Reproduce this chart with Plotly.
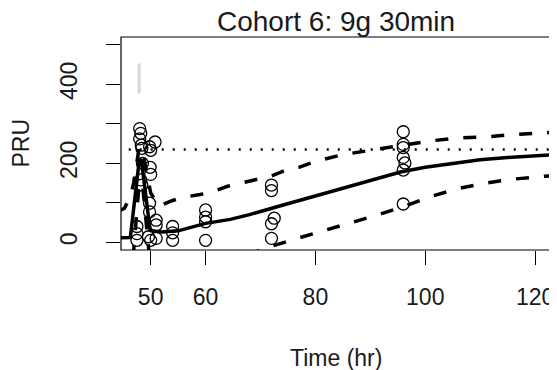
import plotly.graph_objects as go

# ---------------- data ----------------
obs_time = [47.5, 47.5, 47.5,
            48.0, 48.2, 48.0, 48.3, 48.4,
            48.5, 48.2, 48.4,
            49.8, 50.0, 49.9, 50.0, 49.8, 49.8, 49.6, 50.0,
            50.8, 51.0, 51.0, 51.0,
            54, 54, 54,
            60, 60, 60, 60,
            72, 72, 72.5, 72, 72,
            96, 96, 96, 96, 96.3, 96, 96]
obs_pru = [40, 22, 5,
           288, 276, 262, 246, 238,
           200, 158, 145,
           242, 233, 190, 172, 99, 77, 14, 5,
           254, 56, 44, 10,
           40, 24, 5,
           82, 64, 52, 5,
           145, 131, 61, 47, 10,
           280, 248, 240, 215, 201, 183, 97]

med_time = [44, 46.3, 47.9, 48.3, 49.9, 52, 55, 58, 60, 64.5, 68, 73.5, 80, 88, 95.5,
            100, 105, 110, 115, 120, 124]
med_pru = [11, 12, 205, 210, 30, 26, 29, 40, 48, 58, 70, 92, 118, 150, 178,
           190, 200, 209, 215, 219, 222]

up_time = [44, 45.2, 46.3, 46.9, 47.9, 48.4, 50.0, 51.5, 54, 56, 59, 61, 64, 66.5, 70, 72,
           75, 77, 80, 82, 85, 90, 96, 101, 106, 112, 116, 120, 124]
up_pru = [78, 86, 115, 150, 240, 240, 125, 92, 106, 114, 121, 127, 142, 150, 163, 168,
          185, 190, 205, 212, 222, 233, 246, 257, 264, 268, 273, 277, 279]

lo_time = [46.8, 47.9, 48.5, 49.8, 66, 72, 76, 81, 86, 91, 96, 101, 106, 111, 116, 121, 124]
lo_pru = [-40, 150, 150, -40, -40, -10, 7, 27, 47, 68, 90, 116, 136, 150, 160, 167, 170]

threshold = 235
dose_time = [47.9, 47.9]
dose_pru = [377, 453]

x_ticks = [50, 60, 80, 100, 120]
y_ticks = [0, 100, 200, 300, 400, 500]
y_ticktext = ["0", "", "200", "", "400", ""]

title_text = "Cohort 6: 9g 30min"
x_title = "Time (hr)"
y_title = "PRU"

# ---------------- figure ----------------
FONT = "Liberation Sans, Arial, sans-serif"
TXT = "#1a1a1a"

fig = go.Figure()

fig.add_trace(go.Scatter(x=obs_time, y=obs_pru, mode="markers",
                         marker=dict(symbol="circle-open", size=12, color="black",
                                     line=dict(width=1.3, color="black")),
                         showlegend=False, cliponaxis=True))

fig.add_trace(go.Scatter(x=dose_time, y=dose_pru, mode="lines",
                         line=dict(color="#d6d6d6", width=3), showlegend=False))

fig.add_trace(go.Scatter(x=med_time, y=med_pru, mode="lines",
                         line=dict(color="black", width=3.5), showlegend=False))
fig.add_trace(go.Scatter(x=up_time, y=up_pru, mode="lines",
                         line=dict(color="black", width=3.5, dash="13px,15px"),
                         showlegend=False))
fig.add_trace(go.Scatter(x=lo_time, y=lo_pru, mode="lines",
                         line=dict(color="black", width=3.5, dash="13px,15px"),
                         showlegend=False))
fig.add_trace(go.Scatter(x=[40, 130], y=[threshold, threshold], mode="lines",
                         line=dict(color="black", width=2.5, dash="2px,9px"),
                         showlegend=False))

# the page body adds an 8px offset, so the figure is 8px smaller than the window
fig.update_layout(
    width=549, height=362,
    margin=dict(l=113, r=6, t=29, b=120, autoexpand=False),
    paper_bgcolor="white", plot_bgcolor="white",
    font=dict(family=FONT, color=TXT, size=23),
    showlegend=False,
)

fig.update_xaxes(range=[44.6, 122.9], tickvals=x_ticks, ticks="outside", ticklen=14,
                 tickwidth=1, tickcolor="black", showgrid=False, zeroline=False,
                 showline=False, automargin=False,
                 tickfont=dict(size=23, family=FONT, color=TXT),
                 ticklabelstandoff=12)
fig.update_yaxes(range=[-19.5, 520], tickvals=y_ticks, ticktext=y_ticktext,
                 tickangle=-90, ticks="outside", ticklen=14, tickwidth=1,
                 tickcolor="black", showgrid=False, zeroline=False, showline=False,
                 automargin=False,
                 tickfont=dict(size=23, family=FONT, color=TXT), ticklabelstandoff=20)

# plot box
fig.add_shape(type="rect", xref="paper", yref="paper", x0=0, x1=1, y0=0, y1=1,
              line=dict(color="black", width=1.2), fillcolor="rgba(0,0,0,0)")

fig.add_annotation(text=title_text, xref="paper", yref="paper", x=0.5, y=1,
                   yanchor="bottom", yshift=-2, showarrow=False,
                   font=dict(size=28, family=FONT, color=TXT))
fig.add_annotation(text=x_title, xref="paper", yref="paper", x=0.5, y=0,
                   yanchor="middle", yshift=-108, showarrow=False,
                   font=dict(size=23, family=FONT, color=TXT))
fig.add_annotation(text=y_title, xref="paper", yref="paper", x=0, y=0.5,
                   xanchor="center", xshift=-101, textangle=-90, showarrow=False,
                   font=dict(size=23, family=FONT, color=TXT))

fig.write_html("out.html")
